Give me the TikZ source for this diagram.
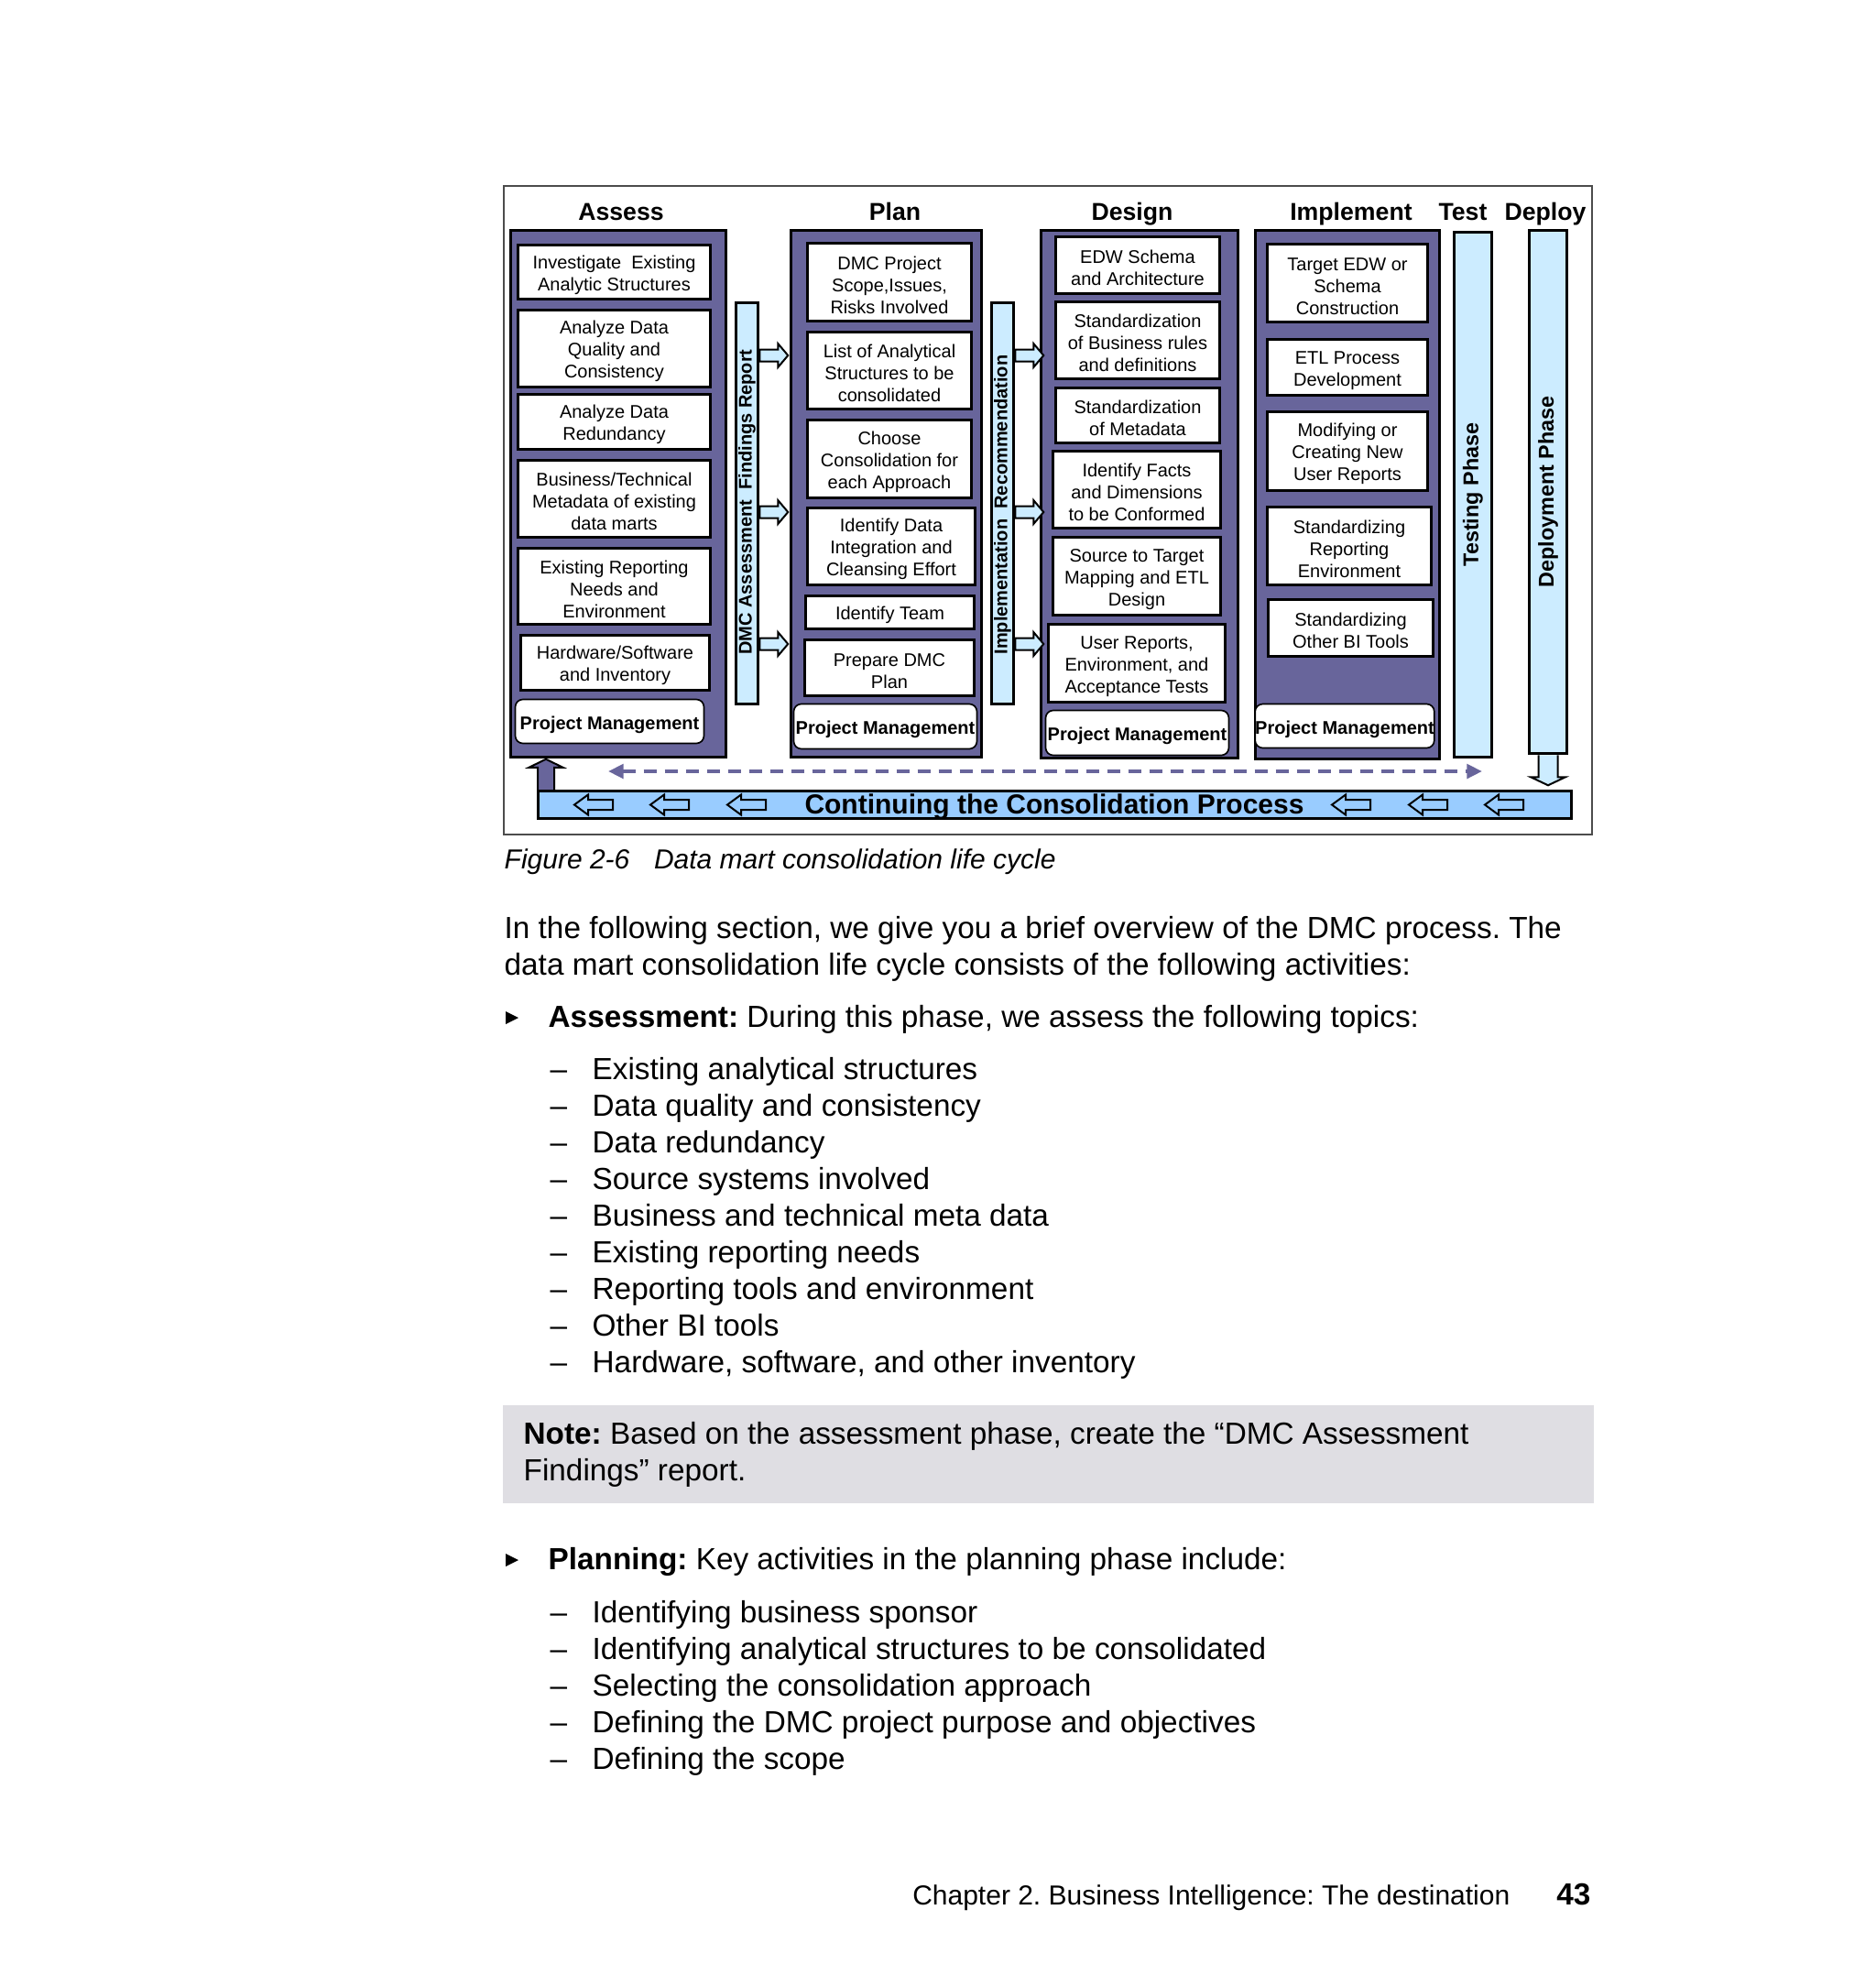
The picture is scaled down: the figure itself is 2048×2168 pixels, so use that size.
\documentclass[tikz,border=0pt]{standalone}
\usepackage{fontspec}
\setmainfont{Liberation Sans}
\usetikzlibrary{arrows.meta}
\definecolor{colpurple}{RGB}{104,101,155}
\definecolor{barblue}{RGB}{204,236,255}
\definecolor{bottomblue}{RGB}{153,204,255}
\definecolor{notegray}{RGB}{223,222,227}
\newcommand\firstl{\rule{0pt}{6.2pt}}
\begin{document}
\frenchspacing
\begin{tikzpicture}[x=0.3pt,y=-0.3pt,
  wh/.style 2 args={minimum width=#1*0.3pt,minimum height=#2*0.3pt},
  col/.style={draw,line width=1pt,fill=colpurple,inner sep=0},
  item/.style={draw,line width=1pt,fill=white,align=center,inner sep=0,font=\fontsize{6}{7.2}\selectfont},
  pm/.style={draw,line width=0.5pt,fill=white,rounded corners=2.5pt,inner sep=0,font=\fontsize{6}{7.2}\selectfont\bfseries,
    execute at begin node={\rule{0pt}{6.6pt}}},
  bar/.style={draw,line width=0.9pt,fill=barblue,inner sep=0},
  ttl/.style={anchor=base,inner sep=0,font=\fontsize{8}{9.6}\selectfont\bfseries},
  vtxt/.style={rotate=90,inner sep=0,font=\fontsize{6}{7.2}\selectfont\bfseries},
  vtxtb/.style={rotate=90,inner sep=0,font=\fontsize{7}{8.4}\selectfont\bfseries},
  body/.style={anchor=base west,inner sep=0,font=\fontsize{10}{12}\selectfont},
  blockarrow/.style={draw,line width=0.6pt,fill=barblue},
  rblock/.pic={\path[blockarrow] (0,-6.5) -- (20,-6.5) -- (20,-13) -- (31,0) -- (20,13) -- (20,6.5) -- (0,6.5) -- cycle;},
  lblock/.pic={\draw[line width=0.6pt] (0,0) -- (15,-11) -- (15,-5.5) -- (42,-5.5) -- (42,5.5) -- (15,5.5) -- (15,11) -- cycle;},
  upblock/.pic={\draw[line width=0.6pt,fill=colpurple] (-9,0) -- (-9,-24) -- (-18.5,-24) -- (0,-33) -- (18.5,-24) -- (9,-24) -- (9,0);},
  downblock/.pic={\draw[line width=0.6pt,fill=barblue] (-10.5,0) -- (-10.5,24) -- (-19,24) -- (0,33) -- (19,24) -- (10.5,24) -- (10.5,0);},
  bulletmark/.pic={\fill (0,-7) -- (0,7) -- (14,0) -- cycle;}
]
\useasboundingbox (0,0) rectangle (2048,2168);
\fill[white] (0,0) rectangle (2048,2168);

% outer frame
\node[draw=black!70,line width=0.6pt,wh={1188}{708},inner sep=0] (frame) at (1144,557) {};

% titles
\node[ttl] (tA) at (678,240.5) {Assess};
\node[ttl] (tP) at (977,240.5) {Plan};
\node[ttl] (tD) at (1236,240.5) {Design};
\node[ttl] (tI) at (1475,240.5) {Implement};
\node[ttl] (tT) at (1597,240.5) {Test};
\node[ttl] (tY) at (1687,240.5) {Deploy};

% columns
\node[col,wh={235}{575}] (cA) at (675,539) {};
\node[col,wh={208}{575}] (cP) at (967.5,539) {};
\node[col,wh={215}{576}] (cD) at (1244,539.5) {};
\node[col,wh={201}{577}] (cI) at (1471,540) {};

% Assess items
\node[item,wh={210}{59}] (a1) at (670.5,297) {\firstl Investigate~ Existing\\Analytic Structures};
\node[item,wh={210}{84}] (a2) at (670.5,380.5) {\firstl Analyze Data\\Quality and\\Consistency};
\node[item,wh={210}{60}] (a3) at (670.5,460.5) {\firstl Analyze Data\\Redundancy};
\node[item,wh={210}{84}] (a4) at (670.5,544.5) {\firstl Business/Technical\\Metadata of existing\\data marts};
\node[item,wh={210}{83}] (a5) at (670.5,640) {\firstl Existing Reporting\\Needs and\\Environment};
\node[item,wh={206}{60}] (a6) at (671.5,723.5) {\firstl Hardware/Software\\and Inventory};
\node[pm,wh={206}{48}] (pmA) at (665.5,787.5) {Project Management};

% Plan items
\node[item,wh={179}{85}] (p1) at (971,308) {\firstl DMC Project\\Scope,Issues,\\Risks Involved};
\node[item,wh={179}{84}] (p2) at (971,404.5) {\firstl List of Analytical\\Structures to be\\consolidated};
\node[item,wh={179}{85}] (p3) at (971,501) {\firstl Choose\\Consolidation for\\each Approach};
\node[item,wh={183}{84}] (p4) at (973,596.5) {\firstl Identify Data\\Integration and\\Cleansing Effort};
\node[item,wh={184}{36}] (p5) at (971.5,668.5) {\firstl Identify Team};
\node[item,wh={185}{61}] (p6) at (971,729) {\firstl Prepare DMC\\Plan};
\node[pm,wh={200}{49}] (pmP) at (966.5,793) {Project Management};

% Design items
\node[item,wh={179}{62}] (d1) at (1242,289.5) {\firstl EDW Schema\\and Architecture};
\node[item,wh={179}{84}] (d2) at (1242,371.5) {\firstl Standardization\\of Business rules\\and definitions};
\node[item,wh={179}{60}] (d3) at (1242,453.5) {\firstl Standardization\\of Metadata};
\node[item,wh={183}{84}] (d4) at (1241,534.5) {\firstl Identify Facts\\and Dimensions\\to be Conformed};
\node[item,wh={183}{85}] (d5) at (1241,629) {\firstl Source to Target\\Mapping and ETL\\Design};
\node[item,wh={193}{85}] (d6) at (1241,724) {\firstl User Reports,\\Environment, and\\Acceptance Tests};
\node[pm,wh={200}{49}] (pmD) at (1241.5,800) {Project Management};

% Implement items
\node[item,wh={175}{85}] (i1) at (1471,309) {\firstl Target EDW or\\Schema\\Construction};
\node[item,wh={175}{61}] (i2) at (1471,401) {\firstl ETL Process\\Development};
\node[item,wh={175}{86}] (i3) at (1471,492.5) {\firstl Modifying or\\Creating New\\User Reports};
\node[item,wh={179}{85}] (i4) at (1473,596) {\firstl Standardizing\\Reporting\\Environment};
\node[item,wh={180}{62}] (i5) at (1474.5,685.5) {\firstl Standardizing\\Other BI Tools};
\node[pm,wh={195}{48}] (pmI) at (1468,792.5) {Project Management};

% bars
\node[bar,wh={24.5}{438.5}] (fbar) at (815.5,549.5) {};
\node[vtxt] (ftxt) at (815.5,548) {DMC Assessment~ Findings Report};
\node[bar,wh={24.5}{438.5}] (rbar) at (1094.5,549.5) {};
\node[vtxt] (rtxt) at (1094.5,551) {Implementation~ Recommendation};
\node[bar,wh={41.5}{573.5}] (tbar) at (1608,540) {};
\node[vtxtb] (ttxt) at (1608,540) {Testing Phase};
\node[bar,wh={41.5}{571.5}] (dbar) at (1690,537) {};
\node[vtxtb] (dtxt) at (1690,537) {Deployment Phase};
\node[bar,fill=bottomblue,wh={1128.5}{30.5}] (bbar) at (1151.5,878.5) {};
\node[inner sep=0,font=\fontsize{9}{10.8}\selectfont\bfseries] (btxt) at (1151,881) {Continuing the Consolidation Process};

% block arrows from report bars into columns
\coordinate (yA) at (0,388);
\coordinate (yB) at (0,559);
\coordinate (yC) at (0,703);
\pic at (fbar.east |- yA) {rblock};
\pic at (fbar.east |- yB) {rblock};
\pic at (fbar.east |- yC) {rblock};
\pic at (rbar.east |- yA) {rblock};
\pic at (rbar.east |- yB) {rblock};
\pic at (rbar.east |- yC) {rblock};

% arrows inside bottom bar
\foreach \lx in {627,710,794,1454,1538,1621}{
  \pic at (bbar.west -| \lx,0) {lblock};
}

% up arrow into Assess and down arrow from Deploy
\coordinate (upx) at (596,0);
\pic at (bbar.north -| upx) {upblock};
\pic at (dbar.south) {downblock};

% dashed double arrow
\coordinate (dl) at (664,842);
\coordinate (dr) at (1618,842);
\draw[colpurple,line width=1.3pt,dash pattern=on 4.2pt off 2.7pt,
  {Triangle[length=5pt,width=4.6pt]}-{Triangle[length=5pt,width=4.6pt]}] (dl) -- (dr);

% caption
\node[anchor=base west,inner sep=0,font=\fontsize{9}{10.8}\selectfont\itshape] (cap) at (550,948) {Figure 2-6\hspace{8pt}Data mart consolidation life cycle};

% body text
\node[body] (b1) at (550,1024) {In the following section, we give you a brief overview of the DMC process. The};
\node[body] (b2) at (550,1064) {data mart consolidation life cycle consists of the following activities:};

\pic at (552,1111) {bulletmark};
\node[body] (as) at (598,1121) {\textbf{Assessment:} During this phase, we assess the following topics:};

\foreach \yy/\tt in {1178.5/Existing analytical structures,1218.5/Data quality and consistency,1258.5/Data redundancy,1298.5/Source systems involved,1338.5/Business and technical meta data,1378.5/Existing reporting needs,1418.5/Reporting tools and environment,1458.5/Other BI tools,1498.5/{Hardware, software, and other inventory}}{
  \node[body] at (600,\yy) {–};
  \node[body] at (646,\yy) {\tt};
}

% note box
\node[fill=notegray,wh={1191}{107},inner sep=0] (note) at (1144.5,1587.5) {};
\node[body] (n1) at (571,1576) {\textbf{Note:} Based on the assessment phase, create the “DMC Assessment};
\node[body] (n2) at (571,1616) {Findings” report.};

\pic at (552,1703) {bulletmark};
\node[body] (pl) at (598,1713) {\textbf{Planning:} Key activities in the planning phase include:};

\foreach \yy/\tt in {1771/Identifying business sponsor,1811/Identifying analytical structures to be consolidated,1851/Selecting the consolidation approach,1891/Defining the DMC project purpose and objectives,1931/Defining the scope}{
  \node[body] at (600,\yy) {–};
  \node[body] at (646,\yy) {\tt};
}

% footer
\node[anchor=base east,inner sep=0,font=\fontsize{9}{10.8}\selectfont] (foot) at (1649,2079) {Chapter 2. Business Intelligence: The destination};
\node[anchor=base east,inner sep=0,font=\fontsize{10}{12}\selectfont\bfseries] (pg) at (1737,2079) {43};
\end{tikzpicture}
\end{document}
